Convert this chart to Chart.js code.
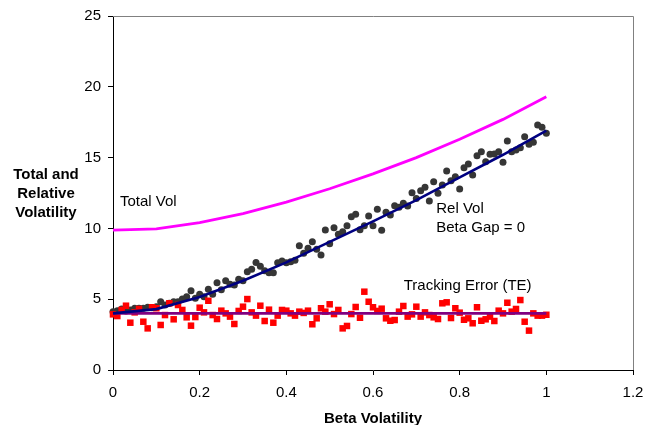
<!DOCTYPE html>
<html>
<head>
<meta charset="utf-8">
<title>Total and Relative Volatility</title>
<script src="https://cdn.jsdelivr.net/npm/chart.js@4.4.1/dist/chart.umd.min.js"></script>
<style>
  html, body { margin: 0; padding: 0; background: #fff; }
  #volChart { display: block; }
</style>
</head>
<body>
<canvas id="volChart" width="646" height="425"></canvas>
<script>
// beta grid for the simulated portfolios
var beta = [0, 0.01, 0.02, 0.03, 0.04, 0.05, 0.06, 0.07, 0.08, 0.09,
  0.1, 0.11, 0.12, 0.13, 0.14, 0.15, 0.16, 0.17, 0.18, 0.19,
  0.2, 0.21, 0.22, 0.23, 0.24, 0.25, 0.26, 0.27, 0.28, 0.29,
  0.3, 0.31, 0.32, 0.33, 0.34, 0.35, 0.36, 0.37, 0.38, 0.39,
  0.4, 0.41, 0.42, 0.43, 0.44, 0.45, 0.46, 0.47, 0.48, 0.49,
  0.5, 0.51, 0.52, 0.53, 0.54, 0.55, 0.56, 0.57, 0.58, 0.59,
  0.6, 0.61, 0.62, 0.63, 0.64, 0.65, 0.66, 0.67, 0.68, 0.69,
  0.7, 0.71, 0.72, 0.73, 0.74, 0.75, 0.76, 0.77, 0.78, 0.79,
  0.8, 0.81, 0.82, 0.83, 0.84, 0.85, 0.86, 0.87, 0.88, 0.89,
  0.9, 0.91, 0.92, 0.93, 0.94, 0.95, 0.96, 0.97, 0.98, 0.99, 1];

// sampled relative volatility (black dots)
var relVolPts = [4.12, 4.19, 4.31, 4.17, 4.24, 4.36, 4.36, 4.36, 4.43, 4.40,
  4.47, 4.82, 4.59, 4.71, 4.82, 4.82, 5.01, 5.18, 5.60, 5.06,
  5.35, 5.18, 5.70, 5.35, 6.17, 5.67, 6.31, 6.05, 6.00, 6.41,
  6.31, 6.94, 7.11, 7.60, 7.32, 7.01, 6.87, 6.87, 7.58, 7.70,
  7.58, 7.65, 7.75, 8.78, 8.24, 8.59, 9.06, 8.52, 8.12, 9.89,
  8.92, 10.05, 9.58, 9.77, 10.19, 10.83, 11.00, 9.91, 10.19, 10.88,
  10.19, 11.35, 9.87, 11.14, 10.95, 11.60, 11.49, 11.77, 11.58, 12.52,
  12.12, 12.66, 12.90, 11.94, 13.30, 12.48, 13.07, 14.05, 13.37, 13.65,
  12.78, 14.29, 14.55, 13.77, 15.13, 15.42, 14.71, 15.23, 15.25, 15.42,
  14.67, 16.17, 15.42, 15.54, 15.70, 16.48, 15.94, 16.08, 17.30, 17.14, 16.72];

// sampled tracking error (red squares)
var tePts = [3.93, 3.81, 4.24, 4.54, 3.34, 4.07, 4.31, 3.41, 2.94, 4.43,
  4.36, 3.18, 3.88, 4.71, 3.58, 4.59, 4.24, 3.72, 3.13, 3.74,
  4.40, 4.07, 4.89, 3.88, 3.60, 4.19, 4.00, 3.77, 3.25, 4.17,
  4.47, 5.01, 4.07, 3.84, 4.54, 3.46, 4.26, 3.34, 3.84, 4.24,
  4.19, 4.00, 3.84, 4.12, 4.03, 4.19, 3.23, 3.65, 4.36, 4.12,
  4.64, 3.95, 4.24, 2.94, 3.11, 3.95, 4.45, 3.69, 5.53, 4.82,
  4.43, 4.17, 4.33, 3.65, 3.48, 3.53, 4.12, 4.52, 3.77, 3.93,
  4.47, 3.77, 4.07, 3.88, 3.72, 3.60, 4.71, 4.78, 3.67, 4.36,
  4.05, 3.55, 3.65, 3.30, 4.43, 3.48, 3.58, 3.77, 3.46, 4.19,
  4.00, 4.75, 4.12, 4.31, 4.94, 3.41, 2.78, 4.00, 3.84, 3.84, 3.90];

// theoretical curves on a coarse grid
var curveBeta = [0, 0.1, 0.2, 0.3, 0.4, 0.5, 0.6, 0.7, 0.8, 0.9, 1];
var totalVol = [9.88, 9.97, 10.4, 11.05, 11.85, 12.8, 13.85, 15.0, 16.3, 17.7, 19.3];
var relVol = [4.0, 4.3, 5.15, 6.3, 7.6, 9.05, 10.5, 12.0, 13.6, 15.2, 16.9];
var teLevel = [4, 4, 4, 4, 4, 4, 4, 4, 4, 4, 4];

var xTicks = [0, 0.2, 0.4, 0.6, 0.8, 1, 1.2];
var xTickLabels = ["0", "0.2", "0.4", "0.6", "0.8", "1", "1.2"];
var yTicks = [0, 5, 10, 15, 20, 25];

function pairs(xs, ys) {
  return xs.map(function (x, i) { return { x: x, y: ys[i] }; });
}

var FONT = "'Liberation Sans', Arial, sans-serif";

// free text labels placed in data units
var notes = [
  { text: "Total Vol", x: 0.016, y: 11.86 },
  { text: "Rel Vol", x: 0.746, y: 11.37 },
  { text: "Beta Gap = 0", x: 0.746, y: 10.03 },
  { text: "Tracking Error (TE)", x: 0.671, y: 5.93 }
];

// grey frame on the top and right of the plot area
var framePlugin = {
  id: 'plotFrame',
  beforeDatasetsDraw: function (chart) {
    var a = chart.chartArea, ctx = chart.ctx;
    ctx.save();
    ctx.strokeStyle = '#808080';
    ctx.lineWidth = 1;
    ctx.beginPath();
    ctx.moveTo(a.left, a.top + 0.5);
    ctx.lineTo(a.right + 0.5, a.top + 0.5);
    ctx.lineTo(a.right + 0.5, a.bottom);
    ctx.stroke();
    ctx.restore();
  }
};

var textPlugin = {
  id: 'chartText',
  afterDraw: function (chart) {
    var ctx = chart.ctx;
    var xs = chart.scales.x, ys = chart.scales.y;
    ctx.save();
    ctx.fillStyle = '#000';
    ctx.textBaseline = 'middle';
    ctx.textAlign = 'left';
    ctx.font = '15px ' + FONT;
    notes.forEach(function (n) {
      ctx.fillText(n.text, xs.getPixelForValue(n.x), ys.getPixelForValue(n.y));
    });
    // axis titles
    ctx.font = 'bold 15px ' + FONT;
    ctx.textAlign = 'center';
    ctx.fillText('Total and', 46, 175);
    ctx.fillText('Relative', 46, 194);
    ctx.fillText('Volatility', 46, 213);
    ctx.fillText('Beta Volatility', (chart.chartArea.left + chart.chartArea.right) / 2, 419);
    ctx.restore();
  }
};

var axisStyle = {
  border: { display: true, color: '#000', width: 1 },
  grid: { display: true, drawOnChartArea: false, drawTicks: true, tickLength: 5, color: '#000', lineWidth: 1 },
  ticks: { color: '#000', font: { family: FONT, size: 15 } }
};

var ctx = document.getElementById('volChart');
var volChart = new Chart(ctx, {
  type: 'scatter',
  data: {
    datasets: [
      {
        label: 'Total Vol',
        data: pairs(curveBeta, totalVol),
        showLine: true,
        borderColor: '#ff00ff',
        borderWidth: 2.8,
        pointRadius: 0,
        tension: 0,
        clip: false
      },
      {
        label: 'Rel Vol',
        data: pairs(curveBeta, relVol),
        showLine: true,
        borderColor: '#000080',
        borderWidth: 2.6,
        pointRadius: 0,
        tension: 0,
        clip: false
      },
      {
        label: 'Tracking Error',
        data: pairs(curveBeta, teLevel),
        showLine: true,
        borderColor: '#800080',
        borderWidth: 2.6,
        pointRadius: 0,
        tension: 0,
        clip: false
      },
      {
        label: 'TE sample',
        data: pairs(beta, tePts),
        pointStyle: 'rect',
        pointRadius: 4.6,
        backgroundColor: '#ff0000',
        borderWidth: 0,
        clip: false
      },
      {
        label: 'Rel Vol sample',
        data: pairs(beta, relVolPts),
        pointStyle: 'circle',
        pointRadius: 3.5,
        backgroundColor: '#363636',
        borderWidth: 0,
        clip: false
      }
    ]
  },
  options: {
    responsive: false,
    animation: false,
    layout: { padding: { left: 0, right: 0, top: 16, bottom: 0 } },
    plugins: {
      legend: { display: false },
      tooltip: { enabled: false }
    },
    scales: {
      x: Object.assign({}, axisStyle, {
        type: 'linear',
        min: 0,
        max: 1.2,
        ticks: Object.assign({}, axisStyle.ticks, {
          padding: 9,
          maxRotation: 0,
          callback: function (v, i) { return xTickLabels[i]; }
        }),
        afterBuildTicks: function (s) { s.ticks = xTicks.map(function (v) { return { value: v }; }); },
        afterFit: function (s) {
          s.height = 55;
          s.paddingLeft = 0;
          s.paddingRight = 13;
        }
      }),
      y: Object.assign({}, axisStyle, {
        type: 'linear',
        min: 0,
        max: 25,
        ticks: Object.assign({}, axisStyle.ticks, { padding: 7 }),
        afterBuildTicks: function (s) { s.ticks = yTicks.map(function (v) { return { value: v }; }); },
        afterFit: function (s) { s.width = 113; }
      })
    }
  },
  plugins: [framePlugin, textPlugin]
});
</script>
</body>
</html>
